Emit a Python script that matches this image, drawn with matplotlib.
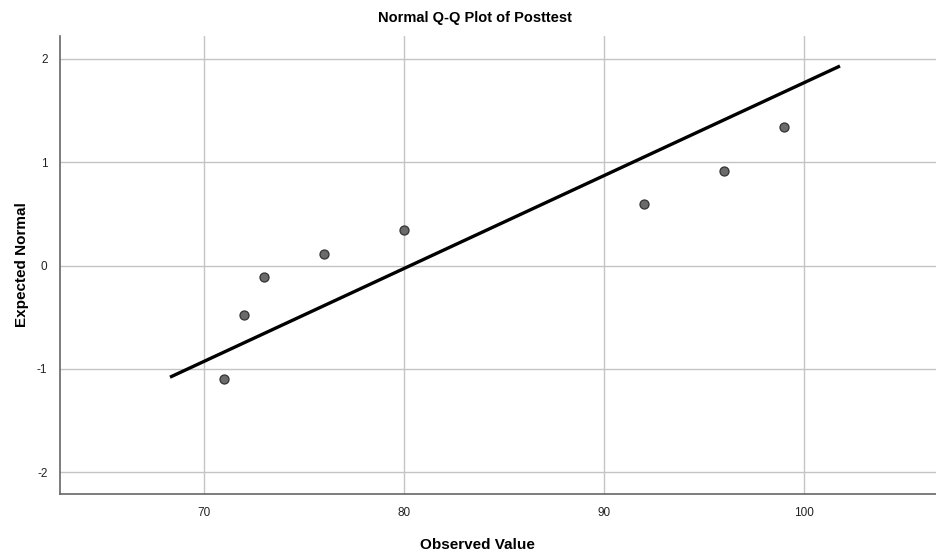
import matplotlib
matplotlib.use("Agg")
import matplotlib.pyplot as plt

# Observed values and expected normal scores
observed = [71, 72, 73, 76, 80, 92, 96, 99]
expected = [-1.10, -0.475, -0.115, 0.115, 0.345, 0.60, 0.91, 1.34]

# reference line end points
line_x = [68.3, 101.8]
line_y = [-1.08, 1.93]

x_ticks = [70, 80, 90, 100]
y_ticks = [-2, -1, 0, 1, 2]

plt.rcParams["font.family"] = ["Liberation Sans", "DejaVu Sans"]
plt.rcParams["axes.unicode_minus"] = False

fig = plt.figure(figsize=(9.36, 5.5), dpi=100)
ax = fig.add_axes([0.0641, 0.1018, 0.9359, 0.8327])

ax.set_xlim(62.8, 106.6)
ax.set_ylim(-2.21, 2.22)
ax.set_xticks(x_ticks)
ax.set_yticks(y_ticks)
ax.grid(True, color="#c4c4c4", linewidth=1.0)
ax.set_axisbelow(True)

ax.plot(line_x, line_y, color="black", linewidth=2.4, solid_capstyle="butt", zorder=2)
ax.plot(observed, expected, "o", markersize=6.5, markerfacecolor="#6b6b6b",
        markeredgecolor="#333333", markeredgewidth=0.9, zorder=3)

for s in ["top", "right"]:
    ax.spines[s].set_visible(False)
for s in ["left", "bottom"]:
    ax.spines[s].set_color("#666666")
    ax.spines[s].set_linewidth(1.2)

ax.tick_params(length=0, labelsize=8.5, labelcolor="#222222", pad=9)
ax.set_xlabel("Observed Value", fontsize=11, fontweight="bold", labelpad=11)
ax.xaxis.set_label_coords(0.477, -0.095)
ax.set_ylabel("Expected Normal", fontsize=11, fontweight="bold", labelpad=6)
fig.text(0.5075, 0.967, "Normal Q-Q Plot of Posttest", fontsize=10.5,
         fontweight="bold", ha="center", va="center")

fig.savefig("out.png", dpi=100)
